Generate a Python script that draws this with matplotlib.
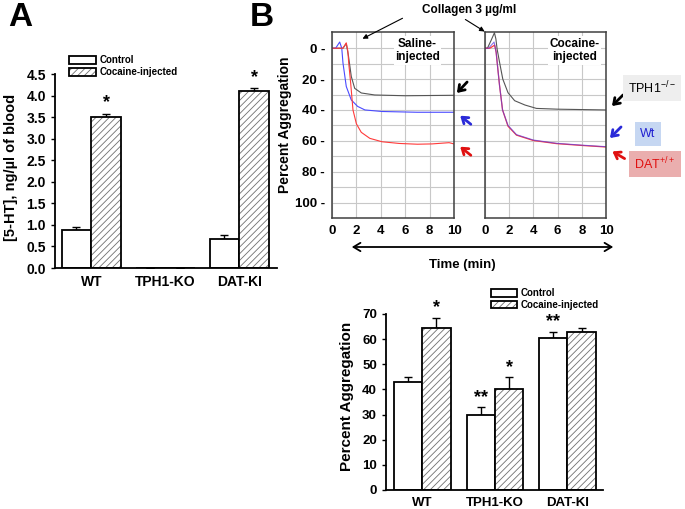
import matplotlib
matplotlib.use("Agg")
import matplotlib.pyplot as plt
import numpy as np

plt.rcParams["font.family"] = ["Liberation Sans", "DejaVu Sans"]
plt.rcParams["hatch.linewidth"] = 0.6
plt.rcParams["mathtext.fontset"] = "custom"
plt.rcParams["mathtext.rm"] = "Liberation Sans"

# panel A data
a_groups = ["WT", "TPH1-KO", "DAT-KI"]
a_control = [0.87, 0.0, 0.68]
a_control_err = [0.07, 0.0, 0.08]
a_cocaine = [3.5, 0.0, 4.1]
a_cocaine_err = [0.08, 0.0, 0.08]
a_ticks = [0.0, 0.5, 1.0, 1.5, 2.0, 2.5, 3.0, 3.5, 4.0, 4.5]

# panel B traces (time in min, percent aggregation)
sal_tph_t = [0, 0.9, 1.17, 1.35, 1.58, 1.86, 2.4, 3.5, 6, 10]
sal_tph_y = [0, 0, -3, 5, 18.3, 26, 29, 30.3, 30.8, 30.5]
sal_wt_t = [0, 0.3, 0.63, 0.8, 0.9, 1.17, 1.58, 2.1, 2.7, 4.1, 7, 10]
sal_wt_y = [0, 0, -4, 0, 9.6, 24.8, 33.5, 37.7, 40, 41, 41.5, 41.5]
sal_dat_t = [0, 0.9, 1.17, 1.3, 1.37, 1.53, 1.72, 2.0, 2.4, 3.1, 4.1, 5.5, 7, 8.2, 9.6, 10]
sal_dat_y = [0, 0, -3.5, 2, 9.6, 22.6, 40, 49, 54.5, 58.4, 60.6, 61.7, 62.2, 62, 61.2, 62]
coc_tph_t = [0, 0.2, 0.5, 0.78, 0.9, 1.0, 1.2, 1.47, 1.9, 2.45, 3.3, 4.25, 6, 10]
coc_tph_y = [0, 0, -5, -10, -6, 0.5, 9, 20, 28.8, 34, 36.8, 39, 39.5, 40]
coc_wt_t = [0, 0.3, 0.75, 0.92, 1.06, 1.2, 1.45, 1.9, 2.6, 4.0, 5.9, 8, 10]
coc_wt_y = [0, 0, -4, 2.6, 13.4, 24, 40, 50, 56, 59.5, 61.6, 62.8, 63.8]
coc_dat_t = [0, 0.4, 0.8, 0.92, 1.06, 1.2, 1.45, 1.9, 2.6, 4.0, 5.9, 8, 10]
coc_dat_y = [0, 0, -2, 2.6, 13.4, 24, 40, 50.5, 56.3, 59.8, 61.8, 63, 64]
b_xticks = [0, 2, 4, 6, 8, 10]
b_yticks = [0, 10, 20, 30, 40, 50, 60, 70, 80, 90, 100]

# panel C data
c_groups = ["WT", "TPH1-KO", "DAT-KI"]
c_control = [43, 30, 60.5]
c_control_err = [2, 3, 2.5]
c_cocaine = [64.5, 40, 63]
c_cocaine_err = [4, 5, 1.5]
c_ticks = [0, 10, 20, 30, 40, 50, 60, 70]

W, H = 685, 509
fig = plt.figure(figsize=(6.85, 5.09), dpi=100)


def rect(x0, y0, x1, y1):
    return [x0 / W, 1 - y1 / H, (x1 - x0) / W, (y1 - y0) / H]


def fp(x, y):
    return (x / W, 1 - y / H)


def grouped_bars(ax, control, control_err, cocaine, cocaine_err, w, fs):
    x = np.arange(len(control))
    b1 = ax.bar(x - w / 2, control, w, color="white", edgecolor="black", lw=1.3, zorder=2)
    h = ax.bar(x + w / 2, cocaine, w, color="white", edgecolor="#707070", lw=0, hatch="/////", zorder=2)
    o = ax.bar(x + w / 2, cocaine, w, fill=False, edgecolor="black", lw=1.3, zorder=3)
    ax.errorbar(x - w / 2, control, yerr=[np.zeros(len(x)), control_err], fmt="none",
                ecolor="black", elinewidth=1, capsize=3, capthick=1, zorder=1)
    ax.errorbar(x + w / 2, cocaine, yerr=[np.zeros(len(x)), cocaine_err], fmt="none",
                ecolor="black", elinewidth=1, capsize=3, capthick=1, zorder=1)
    for s in ["top", "right"]:
        ax.spines[s].set_visible(False)
    ax.spines["left"].set_linewidth(1.3)
    ax.spines["bottom"].set_linewidth(1.3)
    ax.tick_params(axis="y", length=3, width=1, labelsize=fs)
    ax.tick_params(axis="x", length=0, labelsize=fs, pad=5)
    for lab in ax.get_xticklabels() + ax.get_yticklabels():
        lab.set_fontweight("bold")
    return b1, (h, o)


# ---- panel A ----
axA = fig.add_axes(rect(55, 74, 277, 268))
axA.set_xlim(-0.49, 2.51)
axA.set_ylim(0, 4.5)
axA.set_yticks(a_ticks)
axA.set_yticklabels([f"{v:.1f}" for v in a_ticks])
axA.set_xticks(range(3))
axA.set_xticklabels(a_groups)
hc, hh = grouped_bars(axA, a_control, a_control_err, a_cocaine, a_cocaine_err, 0.4, 10)
for i in [0, 2]:
    axA.text(i + 0.2, a_cocaine[i] + a_cocaine_err[i] + 0.05, "*", ha="center", va="bottom",
             fontsize=13, fontweight="bold")
axA.legend([hc, hh], ["Control", "Cocaine-injected"], loc="upper left",
           bbox_to_anchor=fp(69, 55), bbox_transform=fig.transFigure, frameon=False,
           handlelength=2.8, handleheight=0.85, labelspacing=0.25, handletextpad=0.3,
           borderpad=0, borderaxespad=0, prop={"size": 7, "weight": "bold"})
fig.text(*fp(11, 167), "[5-HT], ng/µl of blood", rotation=90, ha="center", va="center",
         fontsize=10.5, fontweight="bold")
fig.text(*fp(20, 18), "A", ha="center", va="center", fontsize=24, fontweight="bold")
fig.text(*fp(262, 18), "B", ha="center", va="center", fontsize=24, fontweight="bold")

# ---- panel B ----
ylim_b = (110, -10.5)
axbg = fig.add_axes(rect(332, 32, 606, 218))
axbg.set_ylim(*ylim_b)
axbg.set_yticks(b_yticks)
axbg.grid(axis="y", color="#c8c8c8", lw=0.8)
axbg.tick_params(length=0, labelleft=False, labelbottom=False)
axbg.set_xticks([])
for s in axbg.spines.values():
    s.set_visible(False)

axL = fig.add_axes(rect(332, 32, 454, 218))
axR = fig.add_axes(rect(485, 32, 606, 218))
for ax in (axL, axR):
    ax.set_xlim(0, 10)
    ax.set_ylim(*ylim_b)
    ax.set_xticks(b_xticks)
    ax.set_xticklabels([str(v) for v in b_xticks], fontweight="bold")
    ax.set_yticks(b_yticks)
    ax.grid(True, color="#c8c8c8", lw=0.8)
    ax.set_axisbelow(True)
    ax.tick_params(length=0, labelsize=9.5, pad=5)
    for s in ax.spines.values():
        s.set_color("#404040")
        s.set_linewidth(1.1)
axL.set_yticklabels([f"{v} -" if v % 20 == 0 else "" for v in b_yticks], fontweight="bold")
axR.set_yticklabels([])

axL.plot(sal_tph_t, sal_tph_y, color="#555555", lw=0.8)
axL.plot(sal_wt_t, sal_wt_y, color="#4a4aff", lw=0.8)
axL.plot(sal_dat_t, sal_dat_y, color="#ff3a3a", lw=0.8)
axR.plot(coc_tph_t, coc_tph_y, color="#555555", lw=0.8)
axR.plot(coc_dat_t, coc_dat_y, color="#ff3a3a", lw=0.9)
axR.plot(coc_wt_t, coc_wt_y, color="#5a3ae0", lw=0.8, alpha=0.7)

axL.text(7.0, 1.5, "Saline-\ninjected", ha="center", va="center", fontsize=8.5,
         fontweight="bold", linespacing=1.15,
         bbox=dict(facecolor="white", edgecolor="none", pad=1))
axR.text(7.4, 1.5, "Cocaine-\ninjected", ha="center", va="center", fontsize=8.5,
         fontweight="bold", linespacing=1.15,
         bbox=dict(facecolor="white", edgecolor="none", pad=1))
fig.text(*fp(469, 10), "Collagen 3 µg/ml", ha="center", va="center", fontsize=8.5,
         fontweight="bold")
fig.text(*fp(285, 125), "Percent Aggregation", rotation=90, ha="center", va="center",
         fontsize=10, fontweight="bold")

arr = dict(arrowstyle="-|>", color="black", lw=0.8, mutation_scale=7)
fig.add_artist(matplotlib.patches.FancyArrowPatch(fp(405, 17), fp(360, 40),
               transform=fig.transFigure, **arr))
fig.add_artist(matplotlib.patches.FancyArrowPatch(fp(463, 18), fp(487, 33),
               transform=fig.transFigure, **arr))

# curve pointers
pointers = [((469, 80), (455, 95), "black"), ((473, 126), (458, 114), "#2a2ad8"),
            ((473, 157), (458, 145), "#e01010"), ((625, 93), (610, 108), "black"),
            ((623, 125), (608, 140), "#2a2ad8"), ((627, 160), (610, 150), "#e01010")]
for (x0, y0), (x1, y1), c in pointers:
    fig.add_artist(matplotlib.patches.FancyArrowPatch(
        fp(x0, y0), fp(x1, y1), transform=fig.transFigure,
        arrowstyle="->,head_length=0.5,head_width=0.35", color=c, lw=2, mutation_scale=8))

fig.text(*fp(652, 88), "TPH1$^{-/-}$", ha="center", va="center", fontsize=9, color="black",
         bbox=dict(facecolor="#eeeeee", edgecolor="none", boxstyle="square,pad=0.4"))
fig.text(*fp(648, 134), "Wt", ha="center", va="center", fontsize=9, color="#2020d0",
         bbox=dict(facecolor="#c6d7f2", edgecolor="none", boxstyle="square,pad=0.45"))
fig.text(*fp(655, 164), "DAT$^{+/+}$", ha="center", va="center", fontsize=9, color="#e01010",
         bbox=dict(facecolor="#eaaeae", edgecolor="none", boxstyle="square,pad=0.4"))

fig.add_artist(matplotlib.patches.FancyArrowPatch(
    fp(349, 247), fp(616, 247), transform=fig.transFigure,
    arrowstyle="<->,head_length=0.5,head_width=0.3", color="black", lw=1.3, mutation_scale=10))
fig.text(*fp(462, 265), "Time (min)", ha="center", va="center", fontsize=9.5,
         fontweight="bold")

# ---- panel C ----
axC = fig.add_axes(rect(386, 314, 603, 490))
axC.set_xlim(-0.5, 2.49)
axC.set_ylim(0, 70)
axC.set_yticks(c_ticks)
axC.set_xticks(range(3))
axC.set_xticklabels(c_groups)
hc2, hh2 = grouped_bars(axC, c_control, c_control_err, c_cocaine, c_cocaine_err, 0.39, 9.5)
stars = [(0.195, c_cocaine[0] + c_cocaine_err[0], "*"),
         (0.805, c_control[1] + c_control_err[1], "**"),
         (1.195, c_cocaine[1] + c_cocaine_err[1], "*"),
         (1.805, c_control[2] + c_control_err[2], "**")]
for x, y, s in stars:
    axC.text(x, y + 0.5, s, ha="center", va="bottom", fontsize=13, fontweight="bold")
axC.legend([hc2, hh2], ["Control", "Cocaine-injected"], loc="upper left",
           bbox_to_anchor=fp(491, 288), bbox_transform=fig.transFigure, frameon=False,
           handlelength=2.7, handleheight=0.85, labelspacing=0.2, handletextpad=0.3,
           borderpad=0, borderaxespad=0, prop={"size": 7, "weight": "bold"})
fig.text(*fp(347, 396), "Percent Aggregation", rotation=90, ha="center", va="center",
         fontsize=11, fontweight="bold")

fig.savefig("out.png", dpi=100)
